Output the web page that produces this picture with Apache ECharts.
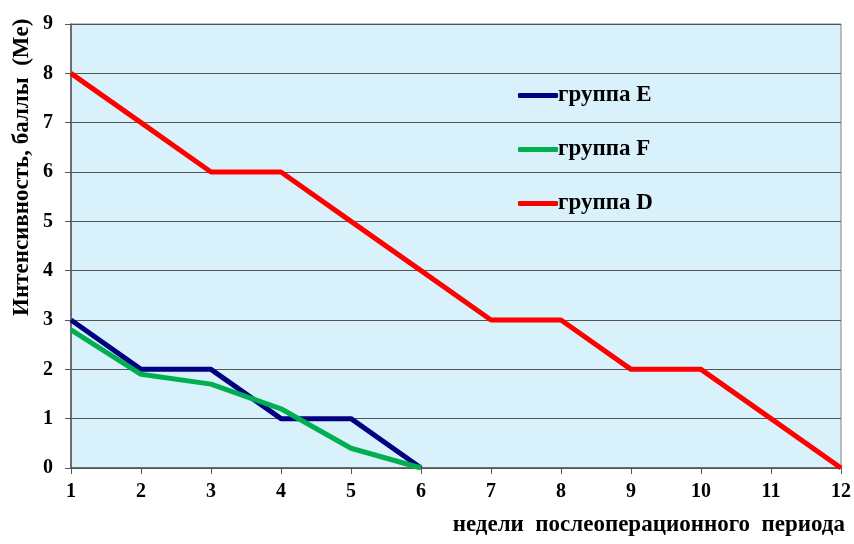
<!DOCTYPE html>
<html><head><meta charset="utf-8">
<script src="https://cdn.jsdelivr.net/npm/echarts@6/dist/echarts.min.js"></script>
<style>html,body{margin:0;padding:0;background:#fff}#c{width:854px;height:544px}</style>
</head><body><div id="c"></div>
<script>
const weeks = ['1','2','3','4','5','6','7','8','9','10','11','12'];
const groupE = [3, 2, 2, 1, 1, 0];
const groupF = [2.8, 1.9, 1.7, 1.2, 0.4, 0];
const groupD = [8, 7, 6, 6, 5, 4, 3, 3, 2, 2, 1, 0];
const yAxisTitle = 'Интенсивность, баллы  (Me)';
const xAxisTitle = 'недели  послеоперационного  периода';

const font = '"Liberation Serif", "Times New Roman", serif';
const chart = echarts.init(document.getElementById('c'));
chart.setOption({
  animation: false,
  backgroundColor: '#fff',
  grid: {left: 71, right: 9, top: 24, bottom: 76, show: true, backgroundColor: '#D9F1FB', borderColor: '#808080', borderWidth: 1},
  xAxis: {
    type: 'category', data: weeks, boundaryGap: false,
    axisLine: {lineStyle: {color: '#555', width: 1.5}},
    axisTick: {show: true, length: 6, lineStyle: {color: '#555'}},
    axisLabel: {fontFamily: font, fontWeight: 'bold', fontSize: 20, color: '#000', margin: 14},
    splitLine: {show: false}
  },
  yAxis: {
    type: 'value', min: 0, max: 9, interval: 1,
    axisLine: {show: true, lineStyle: {color: '#555', width: 1.5}},
    axisTick: {show: true, length: 6, lineStyle: {color: '#555'}},
    axisLabel: {fontFamily: font, fontWeight: 'bold', fontSize: 20, color: '#000', margin: 18},
    splitLine: {lineStyle: {color: '#555', width: 1}}
  },
  legend: {
    orient: 'vertical', left: 513, top: 79, itemGap: 31,
    itemWidth: 40, itemHeight: 5, icon: 'roundRect',
    textStyle: {fontFamily: font, fontWeight: 'bold', fontSize: 23, color: '#000', padding: [0,0,0,-5]},
    data: ['группа E', 'группа F', 'группа D']
  },
  graphic: [
    {type: 'text', x: 22, y: 316, rotation: Math.PI/2,
     style: {text: yAxisTitle, font: 'bold 23px ' + font, fill: '#000', textAlign: 'left', textVerticalAlign: 'middle'}},
    {type: 'text', right: 9, top: 514, style: {text: xAxisTitle, font: 'bold 23px ' + font, fill: '#000'}}
  ],
  series: [
    {name: 'группа E', type: 'line', data: groupE, symbol: 'none', lineStyle: {color: '#000080', width: 5}, itemStyle: {color: '#000080'}},
    {name: 'группа F', type: 'line', data: groupF, symbol: 'none', lineStyle: {color: '#00B050', width: 5}, itemStyle: {color: '#00B050'}},
    {name: 'группа D', type: 'line', data: groupD, symbol: 'none', lineStyle: {color: '#FF0000', width: 5}, itemStyle: {color: '#FF0000'}}
  ]
});
</script></body></html>
